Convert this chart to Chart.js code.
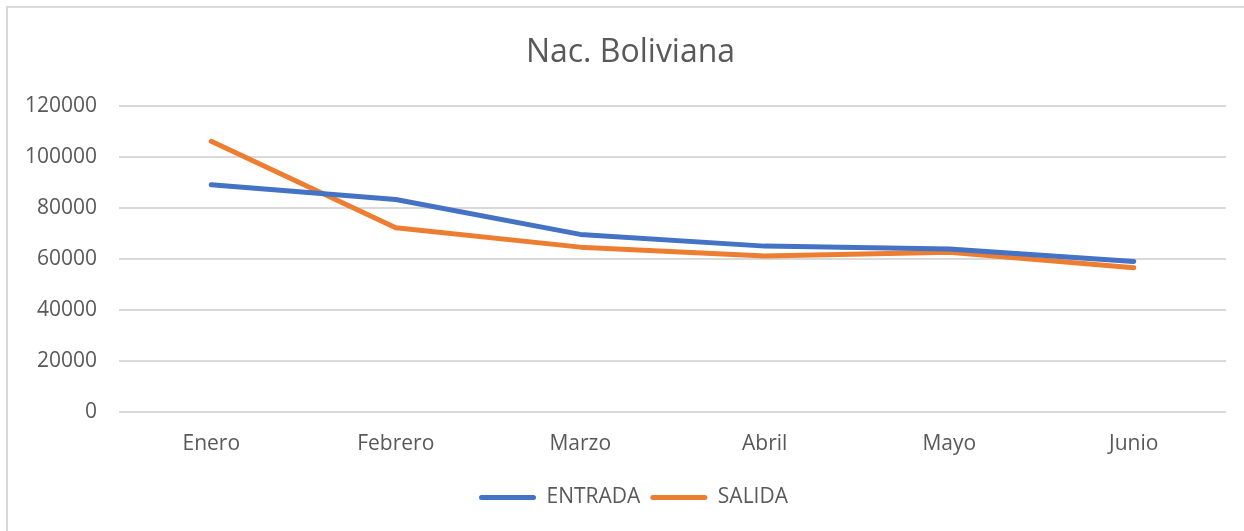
<!DOCTYPE html>
<html>
<head>
<meta charset="utf-8">
<script src="https://cdn.jsdelivr.net/npm/chart.js@4"></script>
<style>
  html, body { margin: 0; padding: 0; background: #fff; overflow: hidden; }
  #wrap { position: relative; width: 1244px; height: 531px; }
  #frame { position: absolute; left: 6px; top: 6px; width: 1400px; height: 700px; border-left: 2px solid #d9d9d9; border-top: 2px solid #d9d9d9; box-sizing: border-box; }
  canvas { position: absolute; left: 0; top: 0; }
</style>
</head>
<body>
<div id="wrap">
  <div id="frame"></div>
  <canvas id="c" width="1244" height="531"></canvas>
</div>
<script>
const categories = ["Enero", "Febrero", "Marzo", "Abril", "Mayo", "Junio"];
const entrada = [89200, 83400, 69700, 65100, 64000, 59100];
const salida = [106300, 72300, 64700, 61200, 62700, 56600];
const yTicks = [0, 20000, 40000, 60000, 80000, 100000, 120000];

const textColor = "#595959";
const fontFamily = "'Open Sans', sans-serif";

// Re-centre title and legend the way the reference does (its frame is offset).
const recentre = {
  id: "recentre",
  afterLayout(chart) {
    if (chart.titleBlock) { chart.titleBlock.left = 35; chart.titleBlock.right = 1226; }
    if (chart.legend) { chart.legend.left = 41; chart.legend.right = 1226; }
  }
};

new Chart(document.getElementById("c"), {
  type: "line",
  data: {
    labels: categories,
    datasets: [
      { label: "ENTRADA", data: entrada, borderColor: "#4472C4", backgroundColor: "#4472C4", borderWidth: 5, pointRadius: 0, tension: 0, borderCapStyle: "round", borderJoinStyle: "round" },
      { label: "SALIDA", data: salida, borderColor: "#ED7D31", backgroundColor: "#ED7D31", borderWidth: 5, pointRadius: 0, tension: 0, borderCapStyle: "round", borderJoinStyle: "round" }
    ]
  },
  plugins: [recentre],
  options: {
    responsive: false,
    animation: false,
    layout: { padding: { top: 0, left: 14, right: 18, bottom: 13 } },
    plugins: {
      title: {
        display: true,
        text: "Nac. Boliviana",
        color: textColor,
        font: { family: fontFamily, size: 32, weight: "normal" },
        padding: { top: 34, bottom: 34 }
      },
      legend: {
        position: "bottom",
        labels: {
          color: textColor,
          font: { family: fontFamily, size: 21 },
          boxWidth: 57,
          boxHeight: 5,
          useBorderRadius: true,
          borderRadius: 2.5,
          padding: 10,
          generateLabels: (chart) => {
            const items = Chart.defaults.plugins.legend.labels.generateLabels(chart);
            items.forEach(it => { it.lineWidth = 0; it.strokeStyle = "rgba(0,0,0,0)"; });
            return items;
          }
        }
      },
      tooltip: { enabled: false }
    },
    scales: {
      x: {
        offset: true,
        grid: { display: false, drawTicks: false },
        border: { display: false },
        ticks: { color: textColor, font: { family: fontFamily, size: 21 }, padding: 20 }
      },
      y: {
        min: 0,
        max: 120000,
        afterBuildTicks: (axis) => { axis.ticks = yTicks.map(v => ({ value: v })); },
        afterFit: (axis) => { axis.width = 105; },
        grid: { color: "#d9d9d9", lineWidth: 2, drawTicks: false },
        border: { display: false },
        ticks: { color: textColor, font: { family: fontFamily, size: 21 }, padding: 22, callback: (v) => String(v) }
      }
    }
  }
});
</script>
</body>
</html>
